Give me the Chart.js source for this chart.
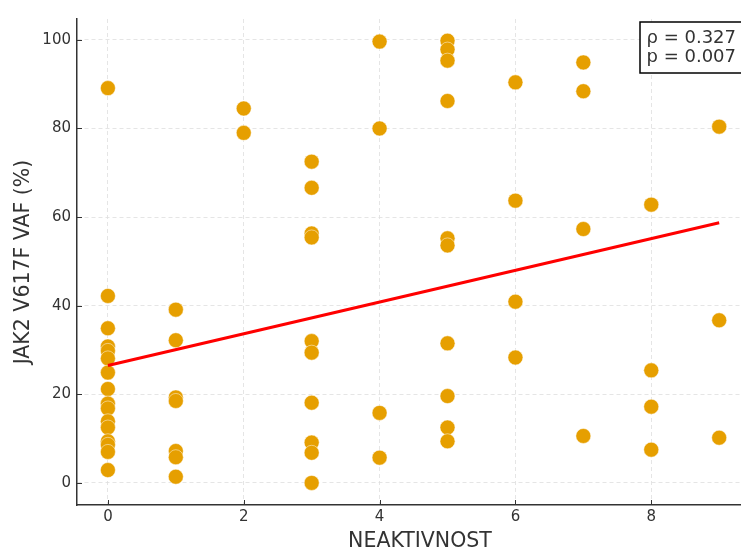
<!DOCTYPE html>
<html>
<head>
<meta charset="utf-8">
<script src="https://cdn.jsdelivr.net/npm/chart.js@4"></script>
<style>
  html, body { margin: 0; padding: 0; overflow: hidden; background: #fff; }
  canvas { display: block; }
</style>
</head>
<body>
<canvas id="chart" width="765" height="550"></canvas>
<script>
// Inactivity score (x) and JAK2 V617F allele fraction in % (y), one entry per patient
const inactivity = [
  0, 0, 0, 0, 0, 0, 0, 0, 0, 0, 0, 0, 0, 0, 0, 0,
  1, 1, 1, 1, 1, 1, 1,
  2, 2,
  3, 3, 3, 3, 3, 3, 3, 3, 3, 3,
  4, 4, 4, 4,
  5, 5, 5, 5, 5, 5, 5, 5, 5, 5,
  6, 6, 6, 6,
  7, 7, 7, 7,
  8, 8, 8, 8,
  9, 9, 9
];
const vaf = [
  89.1, 42.2, 34.9, 30.8, 29.8, 28.1, 24.9, 21.2, 17.9, 16.8, 13.9, 12.5, 9.4, 8.6, 7.0, 2.9,
  39.1, 32.2, 19.3, 18.5, 7.2, 5.8, 1.4,
  84.5, 79.0,
  72.5, 66.6, 56.3, 55.4, 32.0, 29.4, 18.1, 9.1, 6.8, 0.0,
  99.6, 80.0, 15.8, 5.7,
  99.8, 97.8, 95.3, 86.2, 55.2, 53.6, 31.5, 19.6, 12.5, 9.4,
  90.4, 63.7, 40.9, 28.3,
  94.9, 88.4, 57.3, 10.6,
  62.8, 25.4, 17.2, 7.5,
  80.4, 36.7, 10.2
];

// Least-squares trend line end points
const trendX = [0, 9];
const trendY = [26.5, 58.7];

// Axis ticks, titles and the correlation summary
const xTickValues = [0, 2, 4, 6, 8];
const yTickValues = [0, 20, 40, 60, 80, 100];
const xTitle = 'NEAKTIVNOST';
const yTitle = 'JAK2 V617F VAF (%)';
const statLines = ['ρ = 0.327', 'p = 0.007'];

const FONT = '"DejaVu Sans", "Liberation Sans", sans-serif';
const TEXT = '#333333';

const points = inactivity.map((x, i) => ({ x, y: vaf[i] }));
const trend = trendX.map((x, i) => ({ x, y: trendY[i] }));

// Short tick marks pointing into the plot area
const inwardTicks = {
  id: 'inwardTicks',
  beforeDatasetsDraw(chart) {
    const { ctx, chartArea: a, scales: { x, y } } = chart;
    ctx.save();
    ctx.strokeStyle = '#333333';
    ctx.lineWidth = 1;
    ctx.beginPath();
    x.ticks.forEach(t => {
      const px = Math.round(x.getPixelForValue(t.value)) + 0.5;
      ctx.moveTo(px, a.bottom);
      ctx.lineTo(px, a.bottom - 5);
    });
    y.ticks.forEach(t => {
      const py = Math.round(y.getPixelForValue(t.value)) + 0.5;
      ctx.moveTo(a.left, py);
      ctx.lineTo(a.left + 5, py);
    });
    ctx.stroke();
    ctx.restore();
  }
};

// Boxed Spearman statistics in the upper right corner
const statBox = {
  id: 'statBox',
  afterDraw(chart) {
    const { ctx, chartArea: a } = chart;
    const left = a.left + 563, top = a.top + 3, w = 112, h = 51;
    ctx.save();
    ctx.fillStyle = '#ffffff';
    ctx.fillRect(left, top, w, h);
    ctx.strokeStyle = '#000000';
    ctx.lineWidth = 1.5;
    ctx.strokeRect(left, top, w, h);
    ctx.font = '18px ' + FONT;
    ctx.fillStyle = TEXT;
    ctx.textAlign = 'left';
    ctx.textBaseline = 'middle';
    statLines.forEach((s, i) => ctx.fillText(s, left + 6.5, top + 16 + i * 19.5));
    ctx.restore();
  }
};

new Chart(document.getElementById('chart'), {
  data: {
    datasets: [
      {
        type: 'line',
        data: trend,
        borderColor: '#ff0000',
        borderWidth: 3,
        pointRadius: 0,
        fill: false,
        order: 0
      },
      {
        type: 'scatter',
        data: points,
        backgroundColor: '#e69f00',
        borderColor: 'rgba(255,255,255,0.6)',
        borderWidth: 0.8,
        pointRadius: 7.5,
        pointHoverRadius: 7.5,
        order: 1
      }
    ]
  },
  options: {
    responsive: false,
    devicePixelRatio: 1,
    animation: false,
    events: [],
    layout: { autoPadding: false, padding: { top: 19, right: 2, bottom: 0, left: 0 } },
    plugins: {
      legend: { display: false },
      tooltip: { enabled: false }
    },
    scales: {
      x: {
        type: 'linear',
        position: 'bottom',
        min: -0.455,
        max: 9.645,
        afterBuildTicks: s => { s.ticks = xTickValues.map(v => ({ value: v })); },
        afterFit: s => { s.height = 45; },
        grid: { color: '#dedede', lineWidth: 0.8, drawTicks: false },
        border: { display: true, color: '#333333', width: 1.5, dash: [4, 3] },
        ticks: { color: TEXT, padding: 3, font: { family: FONT, size: 15 } },
        title: {
          display: true, text: xTitle, color: TEXT,
          font: { family: FONT, size: 20.5, lineHeight: 1 },
          padding: { top: 0, bottom: -2 }
        }
      },
      y: {
        type: 'linear',
        position: 'left',
        min: -4.985,
        max: 104.7,
        afterBuildTicks: s => { s.ticks = yTickValues.map(v => ({ value: v })); },
        afterFit: s => { s.width = 77; },
        grid: { color: '#dedede', lineWidth: 0.8, drawTicks: false },
        border: { display: true, color: '#333333', width: 1.5, dash: [4, 3] },
        ticks: { color: TEXT, padding: 6, font: { family: FONT, size: 15 } },
        title: {
          display: true, text: yTitle, color: TEXT,
          font: { family: FONT, size: 20.5, lineHeight: 1 },
          padding: { top: 13, bottom: 0 }
        }
      }
    }
  },
  plugins: [inwardTicks, statBox]
});
</script>
</body>
</html>
